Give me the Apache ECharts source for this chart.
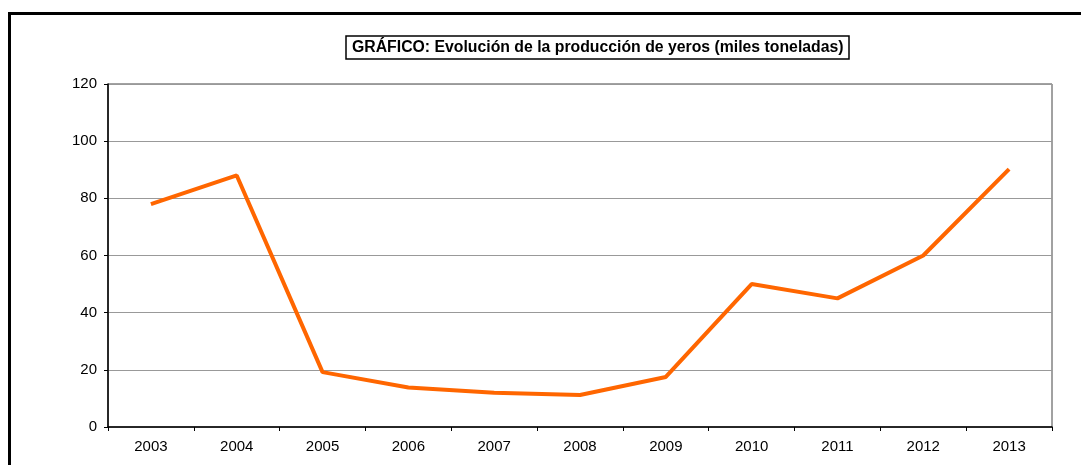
<!DOCTYPE html>
<html><head><meta charset="utf-8">
<script src="https://cdn.jsdelivr.net/npm/echarts@6/dist/echarts.min.js"></script>
<style>html,body{margin:0;padding:0;background:#fff}#c{width:1081px;height:465px}</style>
</head><body><div id="c"></div>
<script>
const years = ['2003','2004','2005','2006','2007','2008','2009','2010','2011','2012','2013'];
const production = [78, 88, 19.2, 13.8, 12, 11.2, 17.5, 50, 45, 60, 90.2];
const chart = echarts.init(document.getElementById('c'), null, {renderer:'canvas'});
chart.setOption({
  animation:false,
  backgroundColor:'#fff',
  textStyle:{fontFamily:'Liberation Sans, Arial, sans-serif'},
  graphic:[{type:'rect', shape:{x:9.5,y:13.5,width:1100,height:500}, style:{fill:'none',stroke:'#000',lineWidth:3}, silent:true}],
  title:{text:'GRÁFICO: Evolución de la producción de yeros (miles toneladas)', left:346, top:36,
    padding:[4,6,3,6], borderColor:'#000', borderWidth:1.5,
    textStyle:{fontSize:15.8, fontWeight:'bold', color:'#000', fontFamily:'Liberation Sans, Arial, sans-serif'}},
  grid:{left:108, right:29, top:84, bottom:38, show:true, borderColor:'#444', borderWidth:1, backgroundColor:'#fff'},
  xAxis:{type:'category', data:years, boundaryGap:true,
    axisLine:{lineStyle:{color:'#000',width:1.5}},
    axisTick:{show:true, length:4, lineStyle:{color:'#000'}},
    axisLabel:{color:'#000', fontSize:15, margin:12}},
  yAxis:{type:'value', min:0, max:120, interval:20,
    axisLine:{show:true, lineStyle:{color:'#000',width:1.5}},
    axisTick:{show:true, length:4, lineStyle:{color:'#000'}},
    axisLabel:{color:'#000', fontSize:15, margin:11},
    splitLine:{lineStyle:{color:'#999',width:1}}},
  series:[{type:'line', data:production, symbol:'none', lineStyle:{color:'#FF6600', width:4}, itemStyle:{color:'#FF6600'}}]
});
</script></body></html>
